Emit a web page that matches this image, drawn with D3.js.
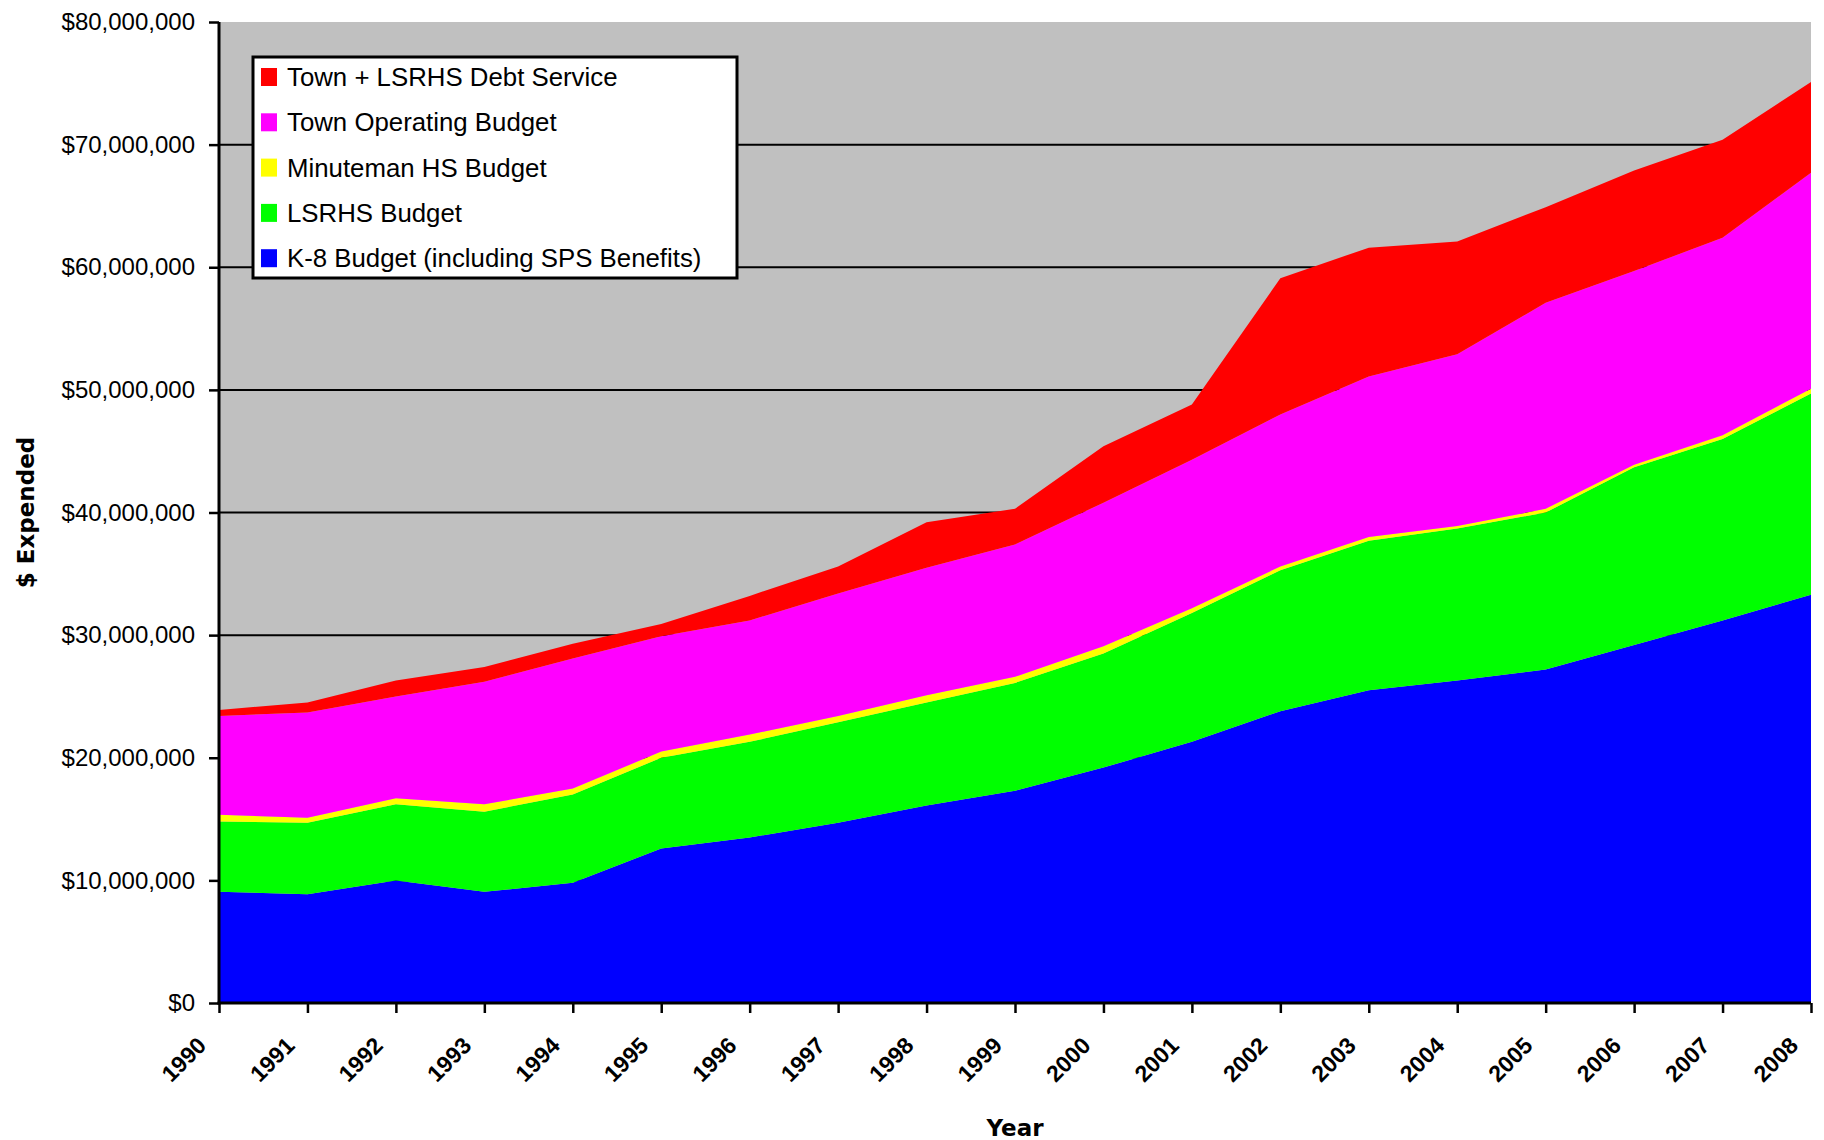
<!DOCTYPE html>
<html>
<head>
<meta charset="utf-8">
<script src="https://cdn.jsdelivr.net/npm/d3@7"></script>
<style>
  body { margin: 0; background: #fff; }
  svg { display: block; }
  .tick-y text { font-family: "Liberation Sans", Arial, sans-serif; font-size: 24px; }
  .tick-x text { font-family: "Liberation Sans", Arial, sans-serif; font-size: 23px; font-weight: bold; }
  .legend text { font-family: "Liberation Sans", Arial, sans-serif; font-size: 25.8px; }
  .title { font-family: "DejaVu Sans", sans-serif; font-size: 23px; font-weight: bold; }
</style>
</head>
<body>
<svg id="chart" width="1824" height="1140"></svg>
<script>
"use strict";

// values in millions of dollars
const years = [1990, 1991, 1992, 1993, 1994, 1995, 1996, 1997, 1998, 1999,
               2000, 2001, 2002, 2003, 2004, 2005, 2006, 2007, 2008];
const k8Budget = [9.07, 8.87, 10.0, 9.07, 9.8, 12.6, 13.5, 14.7, 16.1, 17.3,
                  19.2, 21.3, 23.8, 25.5, 26.3, 27.2, 29.2, 31.2, 33.3];
const lsrhsBudget = [5.73, 5.83, 6.2, 6.53, 7.2, 7.4, 7.8, 8.2, 8.4, 8.8,
                     9.3, 10.5, 11.5, 12.2, 12.4, 12.8, 14.5, 14.8, 16.4];
const minutemanBudget = [0.55, 0.4, 0.5, 0.6, 0.5, 0.5, 0.6, 0.5, 0.6, 0.5,
                         0.6, 0.4, 0.3, 0.3, 0.2, 0.3, 0.2, 0.3, 0.4];
const townOperating = [8.05, 8.6, 8.3, 10.0, 10.6, 9.4, 9.3, 10.0, 10.4, 10.8,
                       11.7, 12.1, 12.4, 13.1, 14.0, 16.8, 15.8, 16.1, 17.6];
const debtService = [0.5, 0.8, 1.3, 1.2, 1.2, 1.0, 2.0, 2.2, 3.7, 2.9,
                     4.6, 4.5, 11.1, 10.5, 9.2, 7.8, 8.2, 8.0, 7.4];

const seriesKeys = ["k8", "lsrhs", "minuteman", "town", "debt"];
const seriesLabels = ["K-8 Budget (including SPS Benefits)", "LSRHS Budget",
                      "Minuteman HS Budget", "Town Operating Budget",
                      "Town + LSRHS Debt Service"];
const seriesColors = ["#0000ff", "#00ff00", "#ffff00", "#ff00ff", "#ff0000"];
const yTicks = [0, 10e6, 20e6, 30e6, 40e6, 50e6, 60e6, 70e6, 80e6];

const rows = years.map((year, i) => ({
  year: year,
  k8: k8Budget[i] * 1e6,
  lsrhs: lsrhsBudget[i] * 1e6,
  minuteman: minutemanBudget[i] * 1e6,
  town: townOperating[i] * 1e6,
  debt: debtService[i] * 1e6,
}));

const margin = {top: 22, right: 13, bottom: 137, left: 219};
const svg = d3.select("#chart");
const width = +svg.attr("width") - margin.left - margin.right;
const height = +svg.attr("height") - margin.top - margin.bottom;

const g = svg.append("g").attr("transform", `translate(${margin.left},${margin.top})`);

const xScale = d3.scaleLinear().domain([1990, 2008]).range([0, width]);
const yScale = d3.scaleLinear().domain([0, 80e6]).range([height, 0]);

// Plot background and grid
g.append("rect")
  .attr("width", width)
  .attr("height", height)
  .attr("fill", "#c0c0c0");

g.append("g")
  .selectAll("line")
  .data(yTicks.slice(1, -1))
  .enter()
  .append("line")
  .attr("x1", 0)
  .attr("x2", width)
  .attr("y1", d => yScale(d))
  .attr("y2", d => yScale(d))
  .attr("stroke", "#000")
  .attr("stroke-width", 2);

// Stacked areas
const stacked = d3.stack().keys(seriesKeys)(rows);
const area = d3.area()
  .x(d => xScale(d.data.year))
  .y0(d => yScale(d[0]))
  .y1(d => yScale(d[1]));

g.append("g")
  .selectAll("path")
  .data(stacked)
  .enter()
  .append("path")
  .attr("fill", (d, i) => seriesColors[i])
  .attr("d", area);

// Axes
const yAxis = g.append("g")
  .attr("class", "tick-y")
  .call(d3.axisLeft(yScale)
          .tickValues(yTicks)
          .tickSize(10)
          .tickPadding(14)
          .tickFormat(d => "$" + d3.format(",")(d)));
yAxis.select(".domain").remove();
yAxis.selectAll("line").attr("stroke", "#000").attr("stroke-width", 2.5);
yAxis.selectAll("text").attr("fill", "#000");

const xAxis = g.append("g")
  .attr("class", "tick-x")
  .attr("transform", `translate(0,${height})`)
  .call(d3.axisBottom(xScale)
          .tickValues(years)
          .tickSize(10)
          .tickFormat(d => "" + d));
xAxis.select(".domain").remove();
xAxis.selectAll("line").attr("stroke", "#000").attr("stroke-width", 2.5);
xAxis.selectAll("text")
  .attr("fill", "#000")
  .attr("text-anchor", "end")
  .attr("dy", null)
  .attr("y", 0)
  .attr("transform", "translate(-12,44) rotate(-45)");

g.append("line")
  .attr("x1", 0).attr("x2", 0)
  .attr("y1", 0).attr("y2", height + 1.5)
  .attr("stroke", "#000").attr("stroke-width", 3);
g.append("line")
  .attr("x1", -1.5).attr("x2", width)
  .attr("y1", height).attr("y2", height)
  .attr("stroke", "#000").attr("stroke-width", 3);

// Titles
svg.append("text")
  .attr("class", "title")
  .attr("transform", `translate(34,${margin.top + height / 2}) rotate(-90)`)
  .attr("text-anchor", "middle")
  .text("$ Expended");

svg.append("text")
  .attr("class", "title")
  .attr("x", margin.left + width / 2)
  .attr("y", 1136)
  .attr("text-anchor", "middle")
  .text("Year");

// Legend (top series first)
const legend = svg.append("g")
  .attr("class", "legend")
  .attr("transform", "translate(253,57)");

legend.append("rect")
  .attr("width", 484)
  .attr("height", 221)
  .attr("fill", "#fff")
  .attr("stroke", "#000")
  .attr("stroke-width", 3);

const legendOrder = d3.range(seriesKeys.length).reverse();
const legendItems = legend.selectAll("g.item")
  .data(legendOrder)
  .enter()
  .append("g")
  .attr("class", "item")
  .attr("transform", (d, i) => `translate(8,${20 + i * 45.3})`);

legendItems.append("rect")
  .attr("y", -9)
  .attr("width", 16)
  .attr("height", 18)
  .attr("fill", d => seriesColors[d]);

legendItems.append("text")
  .attr("x", 26)
  .attr("y", 9)
  .attr("fill", "#000")
  .text(d => seriesLabels[d]);
</script>
</body>
</html>
